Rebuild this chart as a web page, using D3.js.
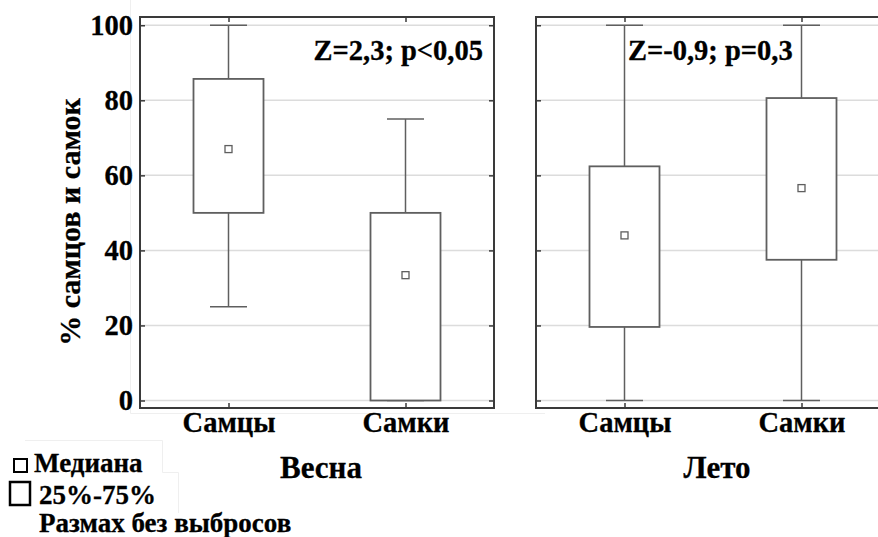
<!DOCTYPE html>
<html>
<head>
<meta charset="utf-8">
<script src="https://cdn.jsdelivr.net/npm/d3@7"></script>
<style>
  html, body { margin: 0; padding: 0; background: #fff; }
  svg { display: block; }
  text { font-family: "Liberation Serif", "Times New Roman", serif; font-weight: bold; fill: #000; stroke: #000; stroke-width: 0.3px; }
</style>
</head>
<body>
<svg id="chart" width="878" height="537"></svg>
<script>
// Groups and seasons
const groups = ["Самцы", "Самки"];
const seasons = ["Весна", "Лето"];

// Box statistics per season, one value per group (Самцы, Самки)
const springMin = [25, 0];
const springQ1 = [50, 0];
const springMedian = [67, 33.4];
const springQ3 = [85.7, 50];
const springMax = [100, 75];

const summerMin = [0, 0];
const summerQ1 = [19.6, 37.5];
const summerMedian = [44, 56.6];
const summerQ3 = [62.4, 80.6];
const summerMax = [100, 100];

// Test results shown in each panel
const testLabels = ["Z=2,3; p<0,05", "Z=-0,9; p=0,3"];

// Y axis ticks
const yTicks = [0, 20, 40, 60, 80, 100];

const yTitle = "% самцов и самок";
const legendLabels = ["Медиана", "25%-75%", "Размах без выбросов"];

const panels = [
  { season: seasons[0], min: springMin, q1: springQ1, med: springMedian, q3: springQ3, max: springMax, label: testLabels[0] },
  { season: seasons[1], min: summerMin, q1: summerQ1, med: summerMedian, q3: summerQ3, max: summerMax, label: testLabels[1] }
];

const svg = d3.select("#chart");
const plotTop = 17, plotBottom = 408;
const panelW = 354;
const panelX = [140, 536];

const y = d3.scaleLinear().domain([-2, 102.2]).range([plotBottom, plotTop]);

const boxW = 70, capW = 37, medSize = 7;
const frameColor = "#3a3a3a", markColor = "#5f5f5f", gridColor = "#dcdcdc";

// faint layout guides around the plotting area
const faint = svg.append("g").attr("stroke", "#efefef").attr("stroke-width", 1).attr("fill", "none");
faint.append("path").attr("d", "M130.5,0V413.5H545");
faint.append("path").attr("d", "M25,440.5H162.5V472.5H178.5V513");

panels.forEach((p, i) => {
  const x0 = panelX[i], x1 = x0 + panelW;
  const g = svg.append("g");
  const x = d3.scalePoint().domain(groups).range([x0, x1]).padding(0.5);

  // gridlines
  g.append("g").selectAll("line").data(yTicks).join("line")
    .attr("x1", x0).attr("x2", x1)
    .attr("y1", d => y(d)).attr("y2", d => y(d))
    .attr("stroke", gridColor).attr("stroke-width", 1.5);

  // inward tick marks on the left frame (with labels on the first panel)
  const axL = d3.axisLeft(y).tickValues(yTicks).tickSizeInner(-5).tickSizeOuter(0).tickPadding(i === 0 ? 7 : 0)
    .tickFormat(i === 0 ? d3.format("d") : () => "");
  const gl = g.append("g").attr("transform", `translate(${x0},0)`).call(axL);
  gl.select(".domain").remove();
  gl.selectAll(".tick line").attr("stroke", frameColor).attr("stroke-width", 1.5);
  gl.selectAll(".tick text").attr("font-size", 28.5).attr("font-family", "Liberation Serif").attr("font-weight", "bold").attr("fill", "#000");

  // inward tick marks on the right frame
  const axR = d3.axisRight(y).tickValues(yTicks).tickSizeInner(-5).tickSizeOuter(0).tickFormat(() => "");
  const gr = g.append("g").attr("transform", `translate(${x1},0)`).call(axR);
  gr.select(".domain").remove();
  gr.selectAll(".tick line").attr("stroke", frameColor).attr("stroke-width", 1.5);

  // bottom axis: inward ticks + group labels
  const axB = d3.axisBottom(x).tickSizeInner(-5).tickSizeOuter(0).tickPadding(4);
  const gb = g.append("g").attr("transform", `translate(0,${plotBottom})`).call(axB);
  gb.select(".domain").remove();
  gb.selectAll(".tick line").attr("stroke", frameColor).attr("stroke-width", 1.5);
  gb.selectAll(".tick text").attr("font-size", 28.5).attr("font-family", "Liberation Serif").attr("font-weight", "bold").attr("fill", "#000");

  // top inward ticks
  const axT = d3.axisTop(x).tickSizeInner(-5).tickSizeOuter(0).tickFormat(() => "");
  const gt = g.append("g").attr("transform", `translate(0,${plotTop})`).call(axT);
  gt.select(".domain").remove();
  gt.selectAll(".tick line").attr("stroke", frameColor).attr("stroke-width", 1.5);

  // whiskers, boxes and medians
  groups.forEach((grp, k) => {
    const cx = x(grp);
    const mk = g.append("g").attr("stroke", markColor).attr("fill", "none");
    mk.append("line").attr("x1", cx).attr("x2", cx).attr("y1", y(p.max[k])).attr("y2", y(p.q3[k])).attr("stroke-width", 1.5);
    mk.append("line").attr("x1", cx).attr("x2", cx).attr("y1", y(p.q1[k])).attr("y2", y(p.min[k])).attr("stroke-width", 1.5);
    mk.append("line").attr("x1", cx - capW / 2).attr("x2", cx + capW / 2).attr("y1", y(p.max[k])).attr("y2", y(p.max[k])).attr("stroke-width", 1.5);
    mk.append("line").attr("x1", cx - capW / 2).attr("x2", cx + capW / 2).attr("y1", y(p.min[k])).attr("y2", y(p.min[k])).attr("stroke-width", 1.5);
    mk.append("rect").attr("x", cx - boxW / 2).attr("width", boxW)
      .attr("y", y(p.q3[k])).attr("height", y(p.q1[k]) - y(p.q3[k]))
      .attr("fill", "#fff").attr("stroke-width", 1.8);
    mk.append("rect").attr("x", cx - medSize / 2).attr("y", y(p.med[k]) - medSize / 2)
      .attr("width", medSize).attr("height", medSize).attr("stroke-width", 1.3);
  });

  // frame
  g.append("rect").attr("x", x0).attr("y", plotTop).attr("width", panelW).attr("height", plotBottom - plotTop)
    .attr("fill", "none").attr("stroke", frameColor).attr("stroke-width", 2);

  // test label
  if (i === 0) {
    g.append("text").attr("x", x1 - 11).attr("y", 60).attr("text-anchor", "end").attr("font-size", 28.5).text(p.label);
  } else {
    g.append("text").attr("x", x0 + 92).attr("y", 60).attr("text-anchor", "start").attr("font-size", 28.5).text(p.label);
  }

  // season title
  g.append("text").attr("x", (x0 + x1) / 2 + 4).attr("y", 478).attr("text-anchor", "middle").attr("font-size", 31).text(p.season);
});

// y axis title
svg.append("text")
  .attr("transform", "translate(80,222) rotate(-90)")
  .attr("text-anchor", "middle").attr("font-size", 30).text(yTitle);

// legend
const lg = svg.append("g");
lg.append("rect").attr("x", 14).attr("y", 459).attr("width", 13).attr("height", 13)
  .attr("fill", "none").attr("stroke", "#000").attr("stroke-width", 2);
lg.append("text").attr("x", 34).attr("y", 472).attr("font-size", 27).text(legendLabels[0]);
lg.append("rect").attr("x", 10).attr("y", 482).attr("width", 20).attr("height", 23)
  .attr("fill", "none").attr("stroke", "#000").attr("stroke-width", 2.5);
lg.append("text").attr("x", 39).attr("y", 504).attr("font-size", 27).text(legendLabels[1]);
lg.append("text").attr("x", 39).attr("y", 532).attr("font-size", 27).text(legendLabels[2]);
</script>
</body>
</html>
